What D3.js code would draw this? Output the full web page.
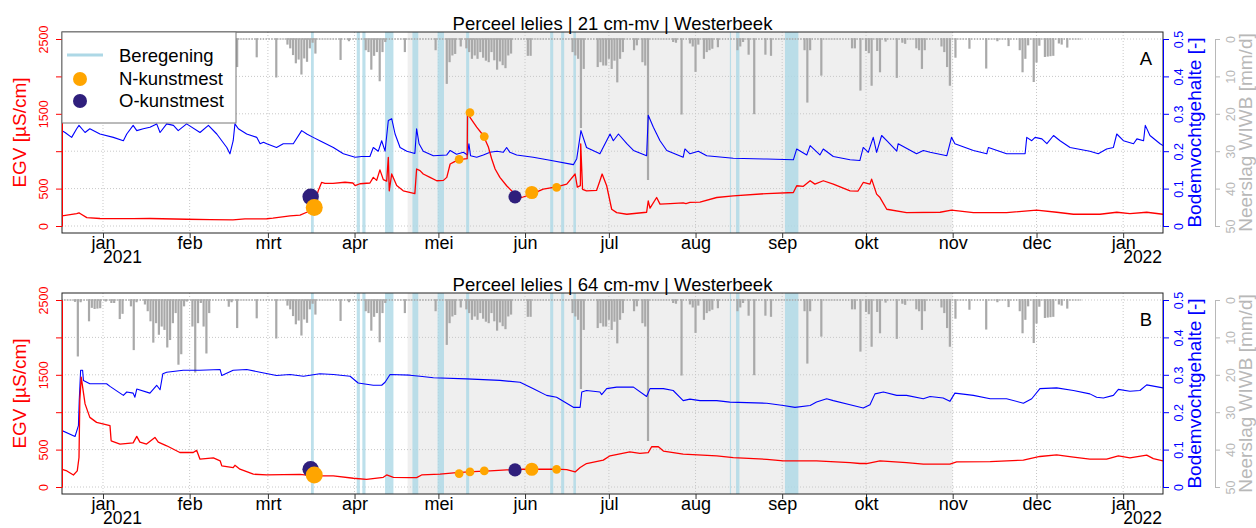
<!DOCTYPE html>
<html>
<head>
<meta charset="utf-8">
<script src="https://cdn.jsdelivr.net/npm/d3@7"></script>
<style>
  body { margin: 0; background: #fff; }
  svg { display: block; font-family: "Liberation Sans", Arial, Helvetica, sans-serif; }
</style>
</head>
<body>
<svg id="chart" width="1256" height="528"></svg>
<script>
// ---------- axis ticks and labels ----------
const monthTicks = ["2021-01-01","2021-02-01","2021-03-01","2021-04-01","2021-05-01","2021-06-01",
  "2021-07-01","2021-08-01","2021-09-01","2021-10-01","2021-11-01","2021-12-01","2022-01-01"];
const monthLabels = ["jan","feb","mrt","apr","mei","jun","jul","aug","sep","okt","nov","dec","jan"];
const yearTicks = ["2021-01-01","2022-01-01"];
const yearLabels = ["2021","2022"];
const egvTicks = [0, 500, 1000, 1500, 2000, 2500];
const egvTickLabels = ["0","500","","1500","","2500"];
const moistTicks = [0, 0.1, 0.2, 0.3, 0.4, 0.5];
const moistTickLabels = ["0","0.1","0.2","0.3","0.4","0.5"];
const rainTicks = [0, 10, 20, 30, 40, 50];
const rainTickLabels = ["0","10","20","30","40","50"];
const timeExtent = ["2020-12-17 08","2022-01-15 06"];

const panelTitles = ["Perceel lelies | 21 cm-mv | Westerbeek", "Perceel lelies | 64 cm-mv | Westerbeek"];
const panelLetters = ["A", "B"];
const legendLabels = ["Beregening", "N-kunstmest", "O-kunstmest"];

// ---------- growing season and irrigation ----------
const growingSeason = ["2021-04-20", "2021-11-01"];
const irrigation = [
  ["2021-03-16 10","2021-03-17 10"],["2021-04-01 19","2021-04-02 22"],["2021-04-03 19","2021-04-04 22"],
  ["2021-04-11 22","2021-04-14 22"],["2021-04-21 17","2021-04-23 19"],["2021-04-30 17","2021-05-03 00"],
  ["2021-05-10 22","2021-05-12 00"],["2021-06-10 00","2021-06-11 02"],["2021-06-13 22","2021-06-15 00"],
  ["2021-06-18 07","2021-06-19 05"],["2021-08-13 07","2021-08-13 17"],["2021-08-15 12","2021-08-16 17"],
  ["2021-09-02 00","2021-09-06 19"]
];

// ---------- daily precipitation WIWB (mm/d), days without rain omitted ----------
const rainPeriod = ["2020-12-17", "2021-12-17"];
const rain = [
  ["2020-12-22",0.5],["2020-12-23",15.1],["2020-12-24",0.6],["2020-12-27",5.7],["2020-12-28",2.1],["2020-12-29",2.4],
  ["2020-12-30",2.3],["2020-12-31",2.2],["2021-01-02",0.4],["2021-01-04",0.8],["2021-01-05",0.8],["2021-01-07",5.1],
  ["2021-01-08",3.7],["2021-01-11",1.7],["2021-01-12",13.4],["2021-01-13",0.6],["2021-01-16",1.2],["2021-01-17",3.0],
  ["2021-01-18",5.7],["2021-01-19",11.4],["2021-01-20",6.2],["2021-01-21",9.3],["2021-01-22",7.1],["2021-01-23",8.0],
  ["2021-01-24",12.7],["2021-01-25",10.7],["2021-01-26",6.2],["2021-01-27",3.5],["2021-01-28",17.3],["2021-01-29",14.5],
  ["2021-01-30",1.7],["2021-01-31",0.4],["2021-02-02",7.1],["2021-02-03",19.4],["2021-02-04",6.2],["2021-02-05",0.8],
  ["2021-02-06",7.1],["2021-02-07",14.3],["2021-02-08",3.5],["2021-02-15",1.8],["2021-02-16",0.6],["2021-02-18",7.5],
  ["2021-02-25",4.9],["2021-03-04",10.3],["2021-03-08",1.5],["2021-03-09",2.5],["2021-03-10",4.3],["2021-03-11",6.5],
  ["2021-03-12",5.5],["2021-03-13",9.5],["2021-03-14",5.2],["2021-03-15",6.1],["2021-03-16",2.5],["2021-03-17",1.0],
  ["2021-03-18",3.9],["2021-03-27",5.6],["2021-03-30",0.6],["2021-04-05",3.0],["2021-04-06",3.5],["2021-04-07",8.2],
  ["2021-04-08",4.5],["2021-04-09",3.5],["2021-04-10",11.3],["2021-04-11",3.5],["2021-04-12",0.8],["2021-04-19",3.5],
  ["2021-04-30",3.0],["2021-05-04",12.0],["2021-05-05",6.2],["2021-05-06",4.4],["2021-05-07",4.0],["2021-05-09",2.0],
  ["2021-05-11",2.5],["2021-05-12",3.5],["2021-05-13",5.3],["2021-05-14",4.4],["2021-05-15",5.3],["2021-05-16",3.5],
  ["2021-05-17",5.0],["2021-05-18",5.8],["2021-05-19",6.2],["2021-05-20",3.5],["2021-05-21",5.7],["2021-05-22",8.2],
  ["2021-05-23",6.0],["2021-05-24",7.0],["2021-05-25",7.8],["2021-05-26",4.4],["2021-05-27",3.9],["2021-06-02",4.5],
  ["2021-06-03",4.5],["2021-06-18",3.5],["2021-06-19",4.4],["2021-06-20",5.3],["2021-06-21",23.8],["2021-06-22",8.0],
  ["2021-06-27",7.5],["2021-06-28",6.2],["2021-06-29",7.1],["2021-06-30",7.1],["2021-07-01",5.3],["2021-07-02",8.0],
  ["2021-07-03",5.8],["2021-07-04",11.6],["2021-07-05",5.3],["2021-07-06",3.5],["2021-07-10",3.0],["2021-07-11",1.7],
  ["2021-07-13",6.2],["2021-07-14",7.1],["2021-07-15",37.7],["2021-07-24",0.8],["2021-07-25",1.0],["2021-07-27",20.2],
  ["2021-07-30",1.2],["2021-07-31",2.0],["2021-08-01",8.8],["2021-08-02",1.5],["2021-08-04",5.3],["2021-08-05",3.5],
  ["2021-08-06",3.0],["2021-08-07",2.6],["2021-08-09",2.2],["2021-08-16",3.0],["2021-08-17",2.0],["2021-08-18",0.8],
  ["2021-08-20",4.2],["2021-08-22",20.1],["2021-08-26",4.2],["2021-08-28",4.5],["2021-09-09",3.0],["2021-09-10",17.0],
  ["2021-09-11",3.0],["2021-09-15",9.8],["2021-09-26",2.5],["2021-09-27",2.5],["2021-09-29",13.8],["2021-10-01",3.2],
  ["2021-10-02",3.8],["2021-10-03",12.5],["2021-10-05",3.2],["2021-10-06",8.9],["2021-10-08",0.7],["2021-10-12",10.4],
  ["2021-10-14",1.0],["2021-10-15",1.3],["2021-10-19",2.5],["2021-10-20",3.0],["2021-10-21",8.0],["2021-10-22",3.0],
  ["2021-10-28",2.0],["2021-10-29",3.5],["2021-10-30",7.5],["2021-10-31",12.5],["2021-11-02",5.0],["2021-11-07",2.6],
  ["2021-11-13",7.9],["2021-11-17",0.6],["2021-11-21",1.9],["2021-11-25",3.0],["2021-11-26",8.9],["2021-11-27",5.3],
  ["2021-11-28",1.7],["2021-11-30",11.5],["2021-12-01",6.3],["2021-12-02",1.8],["2021-12-04",4.8],["2021-12-05",4.7],
  ["2021-12-06",4.6],["2021-12-07",4.5],["2021-12-09",1.2],["2021-12-10",1.5],["2021-12-12",2.3]
];

// ---------- EGV (µS/cm) and soil moisture (-) at 21 cm below surface ----------
const egv21 = [
  ["2020-12-17 08",134],["2020-12-22 14",165],["2020-12-23 10",175],["2020-12-24 02",160],["2020-12-26 05",112],
  ["2020-12-30 22",100],["2021-01-11 17",98],["2021-01-17 19",100],["2021-01-31",90],["2021-02-08 08",85],
  ["2021-02-16 12",82],["2021-02-20 19",95],["2021-02-28 14",97],["2021-03-02 19",105],["2021-03-08 22",134],
  ["2021-03-12 12",146],["2021-03-14 22",184],["2021-03-17 05",246],["2021-03-19",470],["2021-03-20 05",582],
  ["2021-03-21 10",570],["2021-03-24 07",570],["2021-03-28 14",585],["2021-03-31 10",575],["2021-04-01 05",540],
  ["2021-04-02 22",565],["2021-04-06 12",575],["2021-04-07 17",650],["2021-04-08 22",610],["2021-04-10 02",750],
  ["2021-04-11 07",620],["2021-04-12 12",600],["2021-04-13 02",918],["2021-04-13 10",470],["2021-04-14 07",695],
  ["2021-04-16 02",540],["2021-04-18 10",470],["2021-04-22 14",434],["2021-04-23 05",762],["2021-04-24 10",740],
  ["2021-04-25 14",695],["2021-04-28",650],["2021-04-30 10",605],["2021-05-02 19",610],["2021-05-04",650],
  ["2021-05-05 05",829],["2021-05-06 07",850],["2021-05-08 02",883],["2021-05-10 12",896],["2021-05-11 07",900],
  ["2021-05-11 10",1501],["2021-05-12 22",1420],["2021-05-14 17",1321],["2021-05-17 02",1210],["2021-05-18 22",1052],
  ["2021-05-20 02",896],["2021-05-21 07",762],["2021-05-23",650],["2021-05-25 10",538],["2021-05-27 19",448],
  ["2021-05-30 19",381],["2021-06-03 10",426],["2021-06-07 12",493],["2021-06-12 07",524],["2021-06-15 22",560],
  ["2021-06-18 22",695],["2021-06-19 17",520],["2021-06-20 19",540],["2021-06-20 22",1098],["2021-06-21 14",490],
  ["2021-06-23",470],["2021-06-26 14",475],["2021-06-27 19",605],["2021-06-28 14",695],["2021-06-30 05",538],
  ["2021-07-02",224],["2021-07-03 19",179],["2021-07-07 10",157],["2021-07-14 12",184],["2021-07-15 02",336],
  ["2021-07-15 17",240],["2021-07-18 02",381],["2021-07-19 07",292],["2021-07-22 22",300],["2021-07-27 14",310],
  ["2021-07-28 14",300],["2021-07-30",315],["2021-08-02 14",320],["2021-08-08 14",381],["2021-08-14 12",403],
  ["2021-08-26 12",434],["2021-09-05",448],["2021-09-06 05",538],["2021-09-08 14",530],["2021-09-11",605],
  ["2021-09-12 17",560],["2021-09-15 17",605],["2021-09-19 07",560],["2021-09-25 07",470],["2021-09-28 02",465],
  ["2021-09-30",582],["2021-10-02 10",560],["2021-10-03",627],["2021-10-04 19",426],["2021-10-06",380],
  ["2021-10-08 10",224],["2021-10-15 12",179],["2021-10-27 12",184],["2021-10-31 14",211],["2021-11-08 10",179],
  ["2021-11-20 07",179],["2021-12-01",211],["2021-12-08 05",184],["2021-12-14 05",157],["2021-12-23 17",157],
  ["2021-12-29 17",184],["2022-01-03 10",165],["2022-01-09 10",184],["2022-01-15 06",157]
];
const moist21 = [
  ["2020-12-17 08",0.255],["2020-12-18 10",0.25],["2020-12-20 19",0.237],["2020-12-22 14",0.26],["2020-12-23 10",0.269],
  ["2020-12-25 14",0.25],["2020-12-27 07",0.26],["2020-12-30 22",0.246],["2021-01-04 17",0.237],["2021-01-08 07",0.228],
  ["2021-01-09 12",0.246],["2021-01-11 19",0.269],["2021-01-13 02",0.255],["2021-01-15 10",0.26],["2021-01-17 19",0.264],
  ["2021-01-20 05",0.273],["2021-01-21 10",0.25],["2021-01-23 19",0.273],["2021-01-26 05",0.269],["2021-01-27 22",0.255],
  ["2021-01-30 22",0.273],["2021-02-04 17",0.25],["2021-02-07 17",0.269],["2021-02-10 17",0.246],["2021-02-14 07",0.21],
  ["2021-02-15 10",0.193],["2021-02-16 14",0.228],["2021-02-17 05",0.273],["2021-02-18 10",0.26],["2021-02-21 10",0.246],
  ["2021-02-25",0.237],["2021-02-26 05",0.22],["2021-02-27 10",0.224],["2021-02-28 14",0.22],["2021-03-04 02",0.21],
  ["2021-03-06 12",0.22],["2021-03-10 02",0.22],["2021-03-13 02",0.255],["2021-03-14 22",0.246],["2021-03-17 05",0.237],
  ["2021-03-19 14",0.228],["2021-03-24 10",0.21],["2021-03-28",0.193],["2021-04-01 05",0.184],["2021-04-03 14",0.186],
  ["2021-04-06 12",0.186],["2021-04-07 17",0.21],["2021-04-09 12",0.2],["2021-04-10 17",0.228],["2021-04-11 22",0.2],
  ["2021-04-13 02",0.282],["2021-04-14 07",0.287],["2021-04-15 12",0.246],["2021-04-17 07",0.21],["2021-04-19 17",0.2],
  ["2021-04-22 14",0.194],["2021-04-23 05",0.26],["2021-04-24 02",0.22],["2021-04-25 14",0.2],["2021-04-29 05",0.188],
  ["2021-05-04",0.19],["2021-05-05 05",0.202],["2021-05-07 12",0.192],["2021-05-09 22",0.197],["2021-05-11 10",0.19],
  ["2021-05-11 22",0.22],["2021-05-12 12",0.188],["2021-05-14 17",0.184],["2021-05-17 02",0.19],["2021-05-19 12",0.197],
  ["2021-05-21 22",0.2],["2021-05-24 05",0.197],["2021-05-25 10",0.21],["2021-05-26 14",0.197],["2021-05-29",0.19],
  ["2021-06-03 22",0.184],["2021-06-09 22",0.176],["2021-06-18 07",0.164],["2021-06-19 12",0.18],["2021-06-21",0.255],
  ["2021-06-23",0.21],["2021-06-27 19",0.193],["2021-07-01 10",0.246],["2021-07-02 14",0.228],["2021-07-04 10",0.246],
  ["2021-07-07 10",0.22],["2021-07-09 19",0.202],["2021-07-14 12",0.188],["2021-07-15 02",0.296],["2021-07-16 22",0.264],
  ["2021-07-19 07",0.228],["2021-07-21 17",0.202],["2021-07-27 14",0.184],["2021-07-28 05",0.206],["2021-07-30",0.193],
  ["2021-08-02",0.2],["2021-08-05",0.188],["2021-08-14 12",0.181],["2021-08-26 12",0.179],["2021-09-05",0.177],
  ["2021-09-06 05",0.206],["2021-09-09 19",0.19],["2021-09-11",0.215],["2021-09-14 12",0.19],["2021-09-15 17",0.206],
  ["2021-09-19 07",0.186],["2021-09-25 07",0.177],["2021-09-28 19",0.175],["2021-09-30",0.21],["2021-10-01 19",0.197],
  ["2021-10-03 14",0.237],["2021-10-04 19",0.197],["2021-10-06 14",0.242],["2021-10-08 10",0.228],["2021-10-12",0.2],
  ["2021-10-12 12",0.22],["2021-10-19 02",0.193],["2021-10-21 12",0.202],["2021-10-23 22",0.197],["2021-10-29 22",0.188],
  ["2021-10-31 14",0.237],["2021-11-01 19",0.22],["2021-11-08 10",0.202],["2021-11-13 05",0.193],["2021-11-13 19",0.21],
  ["2021-11-20 07",0.193],["2021-11-26 22",0.193],["2021-11-27 12",0.237],["2021-11-29 07",0.228],["2021-11-30 12",0.237],
  ["2021-12-02 22",0.233],["2021-12-04 17",0.22],["2021-12-07 02",0.242],["2021-12-09 10",0.228],["2021-12-13",0.21],
  ["2021-12-20 02",0.2],["2021-12-23 02",0.193],["2021-12-26 02",0.206],["2021-12-28 12",0.21],["2021-12-29 17",0.246],
  ["2022-01-01 02",0.228],["2022-01-04 17",0.22],["2022-01-05 22",0.233],["2022-01-08 07",0.228],["2022-01-08 22",0.269],
  ["2022-01-10 14",0.242],["2022-01-14 05",0.22],["2022-01-15 06",0.215]
];

// ---------- EGV (µS/cm) and soil moisture (-) at 64 cm below surface ----------
const egv64 = [
  ["2020-12-17 08",237],["2020-12-18 19",220],["2020-12-21 10",161],["2020-12-22 19",215],["2020-12-23 10",394],
  ["2020-12-23 17",1156],["2020-12-24 05",1469],["2020-12-25 14",1111],["2020-12-27 07",931],["2020-12-29 17",864],
  ["2021-01-03 12",820],["2021-01-03 22",618],["2021-01-07 02",574],["2021-01-11 19",590],["2021-01-13 02",676],
  ["2021-01-14 05",600],["2021-01-16 14",574],["2021-01-19 14",663],["2021-01-20 19",600],["2021-01-23 19",551],
  ["2021-01-28 12",461],["2021-02-02 07",461],["2021-02-03 12",490],["2021-02-04 17",372],["2021-02-09 12",390],
  ["2021-02-11 22",350],["2021-02-12 12",282],["2021-02-16 14",260],["2021-02-17 05",290],["2021-02-19",238],
  ["2021-02-23 19",171],["2021-02-28 14",161],["2021-03-12 12",170],["2021-03-17 05",148],["2021-03-24 10",148],
  ["2021-03-31 14",117],["2021-04-05 07",103],["2021-04-11 07",130],["2021-04-12 12",161],["2021-04-14 22",130],
  ["2021-04-20 19",125],["2021-04-23 05",125],["2021-04-25",161],["2021-05-01 14",171],["2021-05-07 12",192],
  ["2021-05-13 12",206],["2021-05-19 12",215],["2021-05-25 10",228],["2021-05-31 10",237],["2021-06-12 07",240],
  ["2021-06-15 22",233],["2021-06-18 22",202],["2021-06-20 17",260],["2021-06-23",314],["2021-06-29",359],
  ["2021-07-01 10",417],["2021-07-08 12",470],["2021-07-12 02",450],["2021-07-15 02",460],["2021-07-16 07",538],
  ["2021-07-18 17",538],["2021-07-20 12",480],["2021-07-27 14",439],["2021-08-08 14",417],["2021-08-14 12",394],
  ["2021-08-26 12",370],["2021-09-01 10",349],["2021-09-13 07",349],["2021-09-25 07",327],["2021-09-28 19",314],
  ["2021-10-01 05",314],["2021-10-06",349],["2021-10-15 12",327],["2021-10-21 12",305],["2021-10-31",305],
  ["2021-11-02 10",336],["2021-11-14 10",340],["2021-11-26 07",359],["2021-12-02 05",408],["2021-12-08 05",430],
  ["2021-12-14 05",400],["2021-12-20 02",372],["2021-12-26 02",372],["2021-12-30 07",417],["2022-01-03 10",390],
  ["2022-01-09 10",426],["2022-01-11 19",380],["2022-01-15 06",349]
];
const moist64 = [
  ["2020-12-17 08",0.151],["2020-12-22",0.135],["2020-12-23 05",0.164],["2020-12-23 12",0.231],["2020-12-24",0.312],
  ["2020-12-24 17",0.312],["2020-12-25",0.285],["2020-12-27 07",0.276],["2021-01-02 07",0.276],["2021-01-03 12",0.269],
  ["2021-01-08 07",0.245],["2021-01-09 12",0.254],["2021-01-11 19",0.251],["2021-01-12 10",0.24],["2021-01-13 02",0.262],
  ["2021-01-17 19",0.251],["2021-01-20 05",0.272],["2021-01-21 10",0.26],["2021-01-22 10",0.303],["2021-01-23 19",0.307],
  ["2021-01-29 17",0.312],["2021-02-04 17",0.312],["2021-02-11 22",0.314],["2021-02-12 12",0.298],["2021-02-16 14",0.312],
  ["2021-02-21 10",0.314],["2021-02-26 05",0.307],["2021-03-04 02",0.298],["2021-03-08 22",0.301],["2021-03-13 17",0.296],
  ["2021-03-19 14",0.303],["2021-03-24 10",0.301],["2021-03-30 10",0.296],["2021-04-02 07",0.278],["2021-04-07 17",0.272],
  ["2021-04-10 17",0.272],["2021-04-11 22",0.28],["2021-04-13 17",0.301],["2021-04-20 19",0.299],["2021-04-24 10",0.296],
  ["2021-04-29 05",0.292],["2021-05-11 02",0.289],["2021-05-23",0.285],["2021-05-30 05",0.28],["2021-06-04",0.263],
  ["2021-06-08 17",0.245],["2021-06-12 07",0.24],["2021-06-18 07",0.213],["2021-06-20 17",0.213],["2021-06-21 07",0.254],
  ["2021-06-23",0.258],["2021-06-27 19",0.254],["2021-06-28 10",0.247],["2021-06-30 05",0.263],["2021-07-03 19",0.267],
  ["2021-07-09 19",0.267],["2021-07-14 12",0.242],["2021-07-15 17",0.263],["2021-07-20 12",0.263],["2021-07-24",0.258],
  ["2021-07-27 14",0.231],["2021-07-30",0.235],["2021-08-02 14",0.231],["2021-08-08 14",0.231],["2021-08-13 07",0.227],
  ["2021-08-26 12",0.224],["2021-09-01 10",0.218],["2021-09-05 14",0.213],["2021-09-11",0.218],["2021-09-13 07",0.227],
  ["2021-09-16 22",0.236],["2021-09-19 07",0.231],["2021-09-25 07",0.22],["2021-09-30",0.211],["2021-10-02 10",0.22],
  ["2021-10-04 05",0.249],["2021-10-07 05",0.254],["2021-10-12",0.245],["2021-10-15 12",0.245],["2021-10-21 12",0.236],
  ["2021-10-23 22",0.242],["2021-10-28 14",0.238],["2021-10-31",0.229],["2021-11-01 19",0.251],["2021-11-08 10",0.245],
  ["2021-11-14 10",0.236],["2021-11-20 07",0.236],["2021-11-26 07",0.224],["2021-11-29 07",0.236],["2021-12-02 05",0.263],
  ["2021-12-08 05",0.265],["2021-12-14 05",0.258],["2021-12-20 02",0.249],["2021-12-22 12",0.24],["2021-12-24 22",0.238],
  ["2021-12-28 12",0.245],["2021-12-30 07",0.261],["2022-01-03 10",0.256],["2022-01-07",0.258],["2022-01-09 10",0.273],
  ["2022-01-15 06",0.265]
];

// ---------- fertiliser applications (dose in kg/ha, EGV at the moment of application) ----------
const nFertDates = ["2021-03-17 14","2021-05-08 10","2021-05-12 07","2021-05-17 10","2021-06-03 10","2021-06-12 07"];
const nFertDose = [75, 20, 20, 20, 45, 20];
const nFertEgv21 = [246, 891, 1515, 1196, 448, 515];
const nFertEgv64 = [161, 179, 202, 215, 237, 237];
const oFertDates = ["2021-03-16 07","2021-05-28 10"];
const oFertDose = [70, 45];
const oFertEgv21 = [390, 390];
const oFertEgv64 = [238, 228];

// ---------- drawing ----------
const parseDay = d3.utcParse("%Y-%m-%d");
const parseHour = d3.utcParse("%Y-%m-%d %H");
const t = s => (s.length > 10 ? parseHour(s) : parseDay(s));

const COL = {
  egv: "#ff0000", moist: "#0000ff", rain: "#a9a9a9", rainAxis: "#b8b8b8",
  shade: "#efefef", irr: "#add8e6", grid: "#c8c8c8", nFert: "#ffa500", oFert: "#2f1f7c"
};
const plotLeft = 62, plotRight = 1163, panelH = 201, inset = 7;
const panelTops = [32, 293];

const x = d3.scaleUtc().domain(timeExtent.map(t)).range([plotLeft, plotRight]);
const rScale = d3.scaleSqrt().domain([0, 75]).range([0, 8.5]);

const svg = d3.select("#chart");
svg.append("rect").attr("width", 1256).attr("height", 528).attr("fill", "#fff");

const panels = [
  { egv: egv21, moist: moist21, nEgv: nFertEgv21, oEgv: oFertEgv21, legend: true },
  { egv: egv64, moist: moist64, nEgv: nFertEgv64, oEgv: oFertEgv64, legend: false }
];

const toSeries = arr => arr.map(([d, v]) => ({ t: t(d), v }));

panels.forEach((p, i) => {
  const top = panelTops[i], bottom = top + panelH;
  const yE = d3.scaleLinear().domain([0, 2500]).range([bottom - inset, top + inset]);
  const yM = d3.scaleLinear().domain([0, 0.5]).range([bottom - inset, top + inset]);
  const yR = d3.scaleLinear().domain([0, 50]).range([top + inset, bottom - inset]);

  const g = svg.append("g");
  const clipId = "clip" + i;
  g.append("clipPath").attr("id", clipId).append("rect")
    .attr("x", plotLeft).attr("y", top).attr("width", plotRight - plotLeft).attr("height", panelH);
  const body = g.append("g").attr("clip-path", `url(#${clipId})`);

  // growing season shading
  body.append("rect")
    .attr("x", x(t(growingSeason[0]))).attr("y", top)
    .attr("width", x(t(growingSeason[1])) - x(t(growingSeason[0]))).attr("height", panelH)
    .attr("fill", COL.shade);

  // grid
  body.append("g").selectAll("line").data(egvTicks).join("line")
    .attr("x1", plotLeft).attr("x2", plotRight)
    .attr("y1", d => yE(d)).attr("y2", d => yE(d))
    .attr("stroke", COL.grid).attr("stroke-width", 1).attr("stroke-dasharray", "1,2");
  body.append("g").selectAll("line").data(monthTicks).join("line")
    .attr("x1", d => x(t(d))).attr("x2", d => x(t(d)))
    .attr("y1", top).attr("y2", bottom)
    .attr("stroke", COL.grid).attr("stroke-width", 1).attr("stroke-dasharray", "1,2");

  // irrigation
  body.append("g").selectAll("rect").data(irrigation).join("rect")
    .attr("x", d => x(t(d[0]))).attr("y", top)
    .attr("width", d => Math.max(1, x(t(d[1])) - x(t(d[0])))).attr("height", panelH)
    .attr("fill", COL.irr).attr("opacity", 0.8);

  // precipitation (hanging from the top)
  body.append("line")
    .attr("x1", x(t(rainPeriod[0]))).attr("x2", x(t(rainPeriod[1])))
    .attr("y1", yR(0)).attr("y2", yR(0))
    .attr("stroke", COL.rain).attr("stroke-width", 1.6).attr("stroke-dasharray", "1.5,1.3");
  body.append("g").selectAll("rect").data(rain).join("rect")
    .attr("x", d => x(t(d[0])) - 1.1).attr("width", 2.2)
    .attr("y", yR(0) - 0.8).attr("height", d => yR(d[1]) - yR(0) + 0.8)
    .attr("fill", COL.rain);

  // series
  const lineE = d3.line().x(d => x(d.t)).y(d => yE(d.v));
  const lineM = d3.line().x(d => x(d.t)).y(d => yM(d.v));
  body.append("path").datum(toSeries(p.moist)).attr("d", lineM)
    .attr("fill", "none").attr("stroke", COL.moist).attr("stroke-width", 1.1).attr("stroke-linejoin", "round");
  body.append("path").datum(toSeries(p.egv)).attr("d", lineE)
    .attr("fill", "none").attr("stroke", COL.egv).attr("stroke-width", 1.3).attr("stroke-linejoin", "round");

  // fertiliser
  body.append("g").selectAll("circle").data(oFertDates.map((d, k) => ({ t: t(d), v: p.oEgv[k], r: rScale(oFertDose[k]) })))
    .join("circle").attr("cx", d => x(d.t)).attr("cy", d => yE(d.v)).attr("r", d => d.r).attr("fill", COL.oFert);
  body.append("g").selectAll("circle").data(nFertDates.map((d, k) => ({ t: t(d), v: p.nEgv[k], r: rScale(nFertDose[k]) })))
    .join("circle").attr("cx", d => x(d.t)).attr("cy", d => yE(d.v)).attr("r", d => d.r).attr("fill", COL.nFert);

  // box
  g.append("rect").attr("x", plotLeft).attr("y", top).attr("width", plotRight - plotLeft).attr("height", panelH)
    .attr("fill", "none").attr("stroke", "#222").attr("stroke-width", 1);

  // left axis: EGV
  const axL = g.append("g").attr("transform", `translate(${plotLeft},0)`)
    .call(d3.axisLeft(yE).tickValues(egvTicks).tickFormat((d, k) => egvTickLabels[k]).tickSize(6).tickSizeOuter(0));
  axL.select(".domain").attr("stroke", COL.egv);
  axL.selectAll(".tick line").attr("stroke", COL.egv);
  axL.selectAll(".tick text").attr("fill", COL.egv).attr("font-size", 12.5)
    .attr("x", 0).attr("y", -14).attr("dy", 0).attr("text-anchor", "middle").attr("transform", "rotate(-90)");

  // right axis: soil moisture
  const axR = g.append("g").attr("transform", `translate(${plotRight},0)`)
    .call(d3.axisRight(yM).tickValues(moistTicks).tickFormat((d, k) => moistTickLabels[k]).tickSize(6).tickSizeOuter(0));
  axR.select(".domain").attr("stroke", COL.moist);
  axR.selectAll(".tick line").attr("stroke", COL.moist);
  axR.selectAll(".tick text").attr("fill", COL.moist).attr("font-size", 12.5)
    .attr("x", 0).attr("y", 20).attr("dy", 0).attr("text-anchor", "middle").attr("transform", "rotate(-90)");

  // outer right axis: precipitation
  const axP = g.append("g").attr("transform", "translate(1215,0)")
    .call(d3.axisRight(yR).tickValues(rainTicks).tickFormat((d, k) => rainTickLabels[k]).tickSize(5).tickSizeOuter(0));
  axP.select(".domain").attr("stroke", COL.rainAxis);
  axP.selectAll(".tick line").attr("stroke", COL.rainAxis);
  axP.selectAll(".tick text").attr("fill", COL.rainAxis).attr("font-size", 12.5)
    .attr("x", 0).attr("y", 20).attr("dy", 0).attr("text-anchor", "middle").attr("transform", "rotate(-90)");

  // bottom axis: months, with the year under each January
  const axB = g.append("g").attr("transform", `translate(0,${bottom})`)
    .call(d3.axisBottom(x).tickValues(monthTicks.map(t)).tickFormat((d, k) => monthLabels[k]).tickSize(5).tickSizeOuter(0));
  axB.select(".domain").remove();
  axB.selectAll(".tick line").attr("stroke", "#333");
  axB.selectAll(".tick text").attr("fill", "#000").attr("font-size", 18).attr("y", 15.5).attr("dy", 0);
  g.append("g").selectAll("text").data(yearTicks).join("text")
    .attr("x", d => x(t(d))).attr("y", bottom + 30)
    .attr("font-size", 17.5).attr("fill", "#000").text((d, k) => yearLabels[k]);

  // axis titles
  const midY = (yE(0) + yE(2500)) / 2;
  g.append("text").attr("transform", `translate(26,${midY}) rotate(-90)`).attr("text-anchor", "middle")
    .attr("font-size", 19).attr("fill", COL.egv).text("EGV [µS/cm]");
  g.append("text").attr("transform", `translate(1201,${midY}) rotate(-90)`).attr("text-anchor", "middle")
    .attr("font-size", 19).attr("fill", COL.moist).text("Bodemvochtgehalte [-]");
  g.append("text").attr("transform", `translate(1252,${midY}) rotate(-90)`).attr("text-anchor", "middle")
    .attr("font-size", 19).attr("fill", COL.rainAxis).text("Neerslag WIWB [mm/d]");

  // title and panel letter
  g.append("text").attr("x", (plotLeft + plotRight) / 2).attr("y", top - 2.5).attr("text-anchor", "middle")
    .attr("font-size", 18.5).attr("fill", "#000").text(panelTitles[i]);
  g.append("text").attr("x", 1146).attr("y", top + 33).attr("text-anchor", "middle")
    .attr("font-size", 18.5).attr("fill", "#000").text(panelLetters[i]);

  // legend
  if (p.legend) {
    const lg = g.append("g");
    lg.append("rect").attr("x", plotLeft).attr("y", top).attr("width", 174).attr("height", 91)
      .attr("fill", "#fff").attr("stroke", "#777");
    lg.append("line").attr("x1", 67).attr("x2", 103).attr("y1", top + 23).attr("y2", top + 23)
      .attr("stroke", COL.irr).attr("stroke-width", 3);
    lg.append("circle").attr("cx", 80).attr("cy", top + 47).attr("r", 7).attr("fill", COL.nFert);
    lg.append("circle").attr("cx", 80).attr("cy", top + 69).attr("r", 7).attr("fill", COL.oFert);
    lg.selectAll("text").data(legendLabels).join("text")
      .attr("x", 119).attr("y", (d, k) => top + 30 + k * 22.5)
      .attr("font-size", 18.5).attr("fill", "#000").text(d => d);
  }
});
</script>
</body>
</html>
